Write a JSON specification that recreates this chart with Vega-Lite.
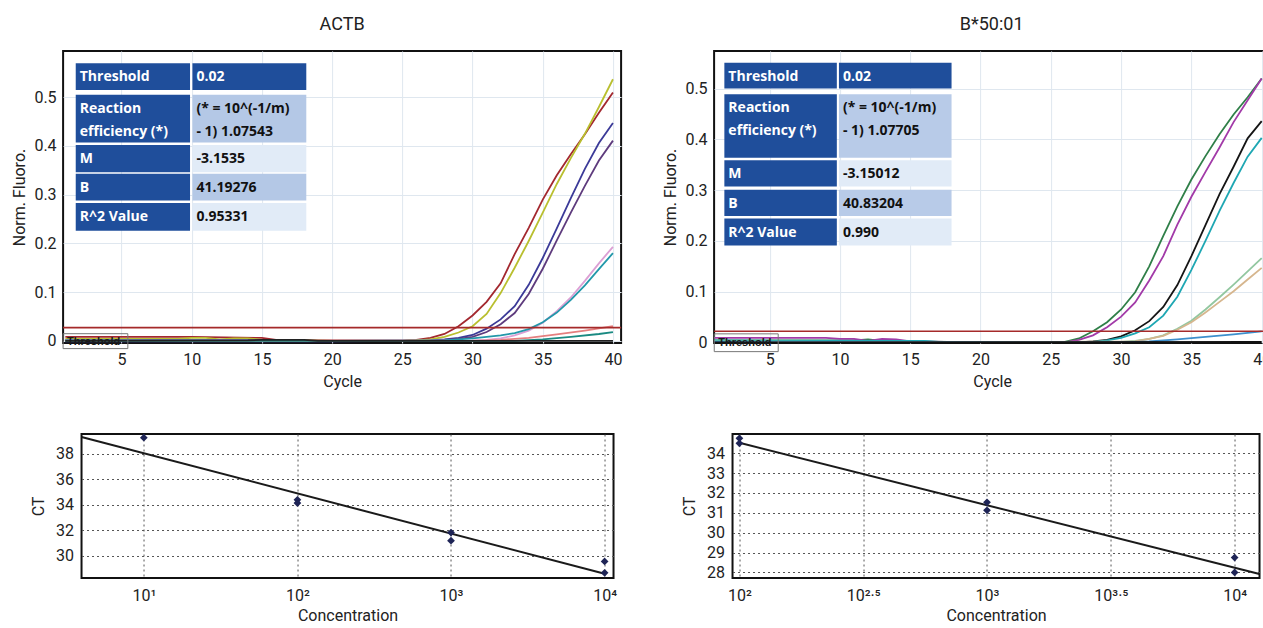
{
  "$schema": "https://vega.github.io/schema/vega-lite/v6.json",
  "padding": {"left": 10, "top": 15, "right": 0, "bottom": 0},
  "background": "white",
  "datasets": {
    "actb_curves": [
      {"s":"R","c":1,"f":0.008},{"s":"R","c":5,"f":0.008},{"s":"R","c":10,"f":0.008},{"s":"R","c":15,"f":0.006},{"s":"R","c":16,"f":0.002},{"s":"R","c":20,"f":0.001},{"s":"R","c":25,"f":0.001},{"s":"R","c":26,"f":0.002},{"s":"R","c":27,"f":0.006},{"s":"R","c":28,"f":0.014},{"s":"R","c":29,"f":0.030},{"s":"R","c":30,"f":0.052},{"s":"R","c":31,"f":0.080},{"s":"R","c":32,"f":0.118},{"s":"R","c":33,"f":0.178},{"s":"R","c":34,"f":0.232},{"s":"R","c":35,"f":0.290},{"s":"R","c":36,"f":0.340},{"s":"R","c":37,"f":0.383},{"s":"R","c":38,"f":0.424},{"s":"R","c":39,"f":0.468},{"s":"R","c":40,"f":0.510},
      {"s":"Y","c":1,"f":0.004},{"s":"Y","c":9,"f":0.004},{"s":"Y","c":10,"f":0.006},{"s":"Y","c":11,"f":0.006},{"s":"Y","c":12,"f":0.003},{"s":"Y","c":13,"f":0.005},{"s":"Y","c":14,"f":0.005},{"s":"Y","c":15,"f":0.002},{"s":"Y","c":20,"f":0.0},{"s":"Y","c":25,"f":0.0},{"s":"Y","c":26,"f":0.001},{"s":"Y","c":27,"f":0.003},{"s":"Y","c":28,"f":0.008},{"s":"Y","c":29,"f":0.017},{"s":"Y","c":30,"f":0.030},{"s":"Y","c":31,"f":0.055},{"s":"Y","c":32,"f":0.098},{"s":"Y","c":33,"f":0.150},{"s":"Y","c":34,"f":0.205},{"s":"Y","c":35,"f":0.263},{"s":"Y","c":36,"f":0.322},{"s":"Y","c":37,"f":0.375},{"s":"Y","c":38,"f":0.425},{"s":"Y","c":39,"f":0.480},{"s":"Y","c":40,"f":0.537},
      {"s":"N","c":1,"f":-0.001},{"s":"N","c":20,"f":-0.001},{"s":"N","c":26,"f":0.0},{"s":"N","c":27,"f":0.001},{"s":"N","c":28,"f":0.003},{"s":"N","c":29,"f":0.006},{"s":"N","c":30,"f":0.012},{"s":"N","c":31,"f":0.025},{"s":"N","c":32,"f":0.044},{"s":"N","c":33,"f":0.071},{"s":"N","c":34,"f":0.115},{"s":"N","c":35,"f":0.170},{"s":"N","c":36,"f":0.231},{"s":"N","c":37,"f":0.293},{"s":"N","c":38,"f":0.353},{"s":"N","c":39,"f":0.406},{"s":"N","c":40,"f":0.447},
      {"s":"P","c":1,"f":0.002},{"s":"P","c":15,"f":0.002},{"s":"P","c":18,"f":0.0},{"s":"P","c":27,"f":0.0},{"s":"P","c":28,"f":0.002},{"s":"P","c":29,"f":0.004},{"s":"P","c":30,"f":0.008},{"s":"P","c":31,"f":0.018},{"s":"P","c":32,"f":0.034},{"s":"P","c":33,"f":0.057},{"s":"P","c":34,"f":0.096},{"s":"P","c":35,"f":0.148},{"s":"P","c":36,"f":0.206},{"s":"P","c":37,"f":0.263},{"s":"P","c":38,"f":0.318},{"s":"P","c":39,"f":0.370},{"s":"P","c":40,"f":0.411},
      {"s":"K","c":1,"f":0.001},{"s":"K","c":20,"f":0.0},{"s":"K","c":30,"f":0.001},{"s":"K","c":31,"f":0.002},{"s":"K","c":32,"f":0.005},{"s":"K","c":33,"f":0.011},{"s":"K","c":34,"f":0.021},{"s":"K","c":35,"f":0.037},{"s":"K","c":36,"f":0.061},{"s":"K","c":37,"f":0.089},{"s":"K","c":38,"f":0.123},{"s":"K","c":39,"f":0.159},{"s":"K","c":40,"f":0.193},
      {"s":"T","c":1,"f":0.001},{"s":"T","c":20,"f":0.0},{"s":"T","c":28,"f":0.001},{"s":"T","c":29,"f":0.003},{"s":"T","c":30,"f":0.005},{"s":"T","c":31,"f":0.008},{"s":"T","c":32,"f":0.011},{"s":"T","c":33,"f":0.016},{"s":"T","c":34,"f":0.024},{"s":"T","c":35,"f":0.038},{"s":"T","c":36,"f":0.058},{"s":"T","c":37,"f":0.084},{"s":"T","c":38,"f":0.114},{"s":"T","c":39,"f":0.147},{"s":"T","c":40,"f":0.180},
      {"s":"S","c":1,"f":0.0},{"s":"S","c":30,"f":0.0},{"s":"S","c":32,"f":0.002},{"s":"S","c":34,"f":0.006},{"s":"S","c":36,"f":0.013},{"s":"S","c":38,"f":0.021},{"s":"S","c":40,"f":0.030},
      {"s":"G","c":1,"f":0.0},{"s":"G","c":33,"f":0.0},{"s":"G","c":35,"f":0.003},{"s":"G","c":37,"f":0.008},{"s":"G","c":39,"f":0.014},{"s":"G","c":40,"f":0.018},
      {"s":"B","c":1,"f":0.0},{"s":"B","c":14,"f":0.001},{"s":"B","c":15,"f":0.002},{"s":"B","c":18,"f":0.002},{"s":"B","c":19,"f":0.0},{"s":"B","c":40,"f":0.0}
    ],
    "b50_curves": [
      {"s":"G","c":1,"f":0.004},{"s":"G","c":11,"f":0.004},{"s":"G","c":12,"f":0.006},{"s":"G","c":13,"f":0.003},{"s":"G","c":20,"f":0.0},{"s":"G","c":25,"f":0.0},{"s":"G","c":26,"f":0.001},{"s":"G","c":27,"f":0.008},{"s":"G","c":28,"f":0.022},{"s":"G","c":29,"f":0.040},{"s":"G","c":30,"f":0.065},{"s":"G","c":31,"f":0.099},{"s":"G","c":32,"f":0.150},{"s":"G","c":33,"f":0.210},{"s":"G","c":34,"f":0.268},{"s":"G","c":35,"f":0.321},{"s":"G","c":36,"f":0.367},{"s":"G","c":37,"f":0.410},{"s":"G","c":38,"f":0.449},{"s":"G","c":39,"f":0.483},{"s":"G","c":40,"f":0.520},
      {"s":"M","c":1,"f":0.009},{"s":"M","c":9,"f":0.009},{"s":"M","c":10,"f":0.007},{"s":"M","c":11,"f":0.007},{"s":"M","c":12,"f":0.003},{"s":"M","c":13,"f":0.007},{"s":"M","c":14,"f":0.006},{"s":"M","c":15,"f":0.002},{"s":"M","c":20,"f":0.0},{"s":"M","c":26,"f":0.0},{"s":"M","c":27,"f":0.005},{"s":"M","c":28,"f":0.014},{"s":"M","c":29,"f":0.030},{"s":"M","c":30,"f":0.051},{"s":"M","c":31,"f":0.079},{"s":"M","c":32,"f":0.122},{"s":"M","c":33,"f":0.170},{"s":"M","c":34,"f":0.232},{"s":"M","c":35,"f":0.287},{"s":"M","c":36,"f":0.336},{"s":"M","c":37,"f":0.384},{"s":"M","c":38,"f":0.434},{"s":"M","c":39,"f":0.477},{"s":"M","c":40,"f":0.520},
      {"s":"K","c":1,"f":0.0},{"s":"K","c":27,"f":0.0},{"s":"K","c":28,"f":0.002},{"s":"K","c":29,"f":0.005},{"s":"K","c":30,"f":0.012},{"s":"K","c":31,"f":0.024},{"s":"K","c":32,"f":0.042},{"s":"K","c":33,"f":0.070},{"s":"K","c":34,"f":0.113},{"s":"K","c":35,"f":0.170},{"s":"K","c":36,"f":0.231},{"s":"K","c":37,"f":0.292},{"s":"K","c":38,"f":0.346},{"s":"K","c":39,"f":0.402},{"s":"K","c":40,"f":0.436},
      {"s":"C","c":1,"f":0.004},{"s":"C","c":16,"f":0.003},{"s":"C","c":17,"f":0.001},{"s":"C","c":20,"f":0.0},{"s":"C","c":27,"f":0.0},{"s":"C","c":28,"f":0.001},{"s":"C","c":29,"f":0.004},{"s":"C","c":30,"f":0.009},{"s":"C","c":31,"f":0.018},{"s":"C","c":32,"f":0.030},{"s":"C","c":33,"f":0.053},{"s":"C","c":34,"f":0.090},{"s":"C","c":35,"f":0.143},{"s":"C","c":36,"f":0.200},{"s":"C","c":37,"f":0.259},{"s":"C","c":38,"f":0.314},{"s":"C","c":39,"f":0.366},{"s":"C","c":40,"f":0.403},
      {"s":"L","c":1,"f":0.002},{"s":"L","c":20,"f":0.0},{"s":"L","c":30,"f":0.001},{"s":"L","c":31,"f":0.003},{"s":"L","c":32,"f":0.007},{"s":"L","c":33,"f":0.014},{"s":"L","c":34,"f":0.027},{"s":"L","c":35,"f":0.043},{"s":"L","c":36,"f":0.065},{"s":"L","c":37,"f":0.089},{"s":"L","c":38,"f":0.114},{"s":"L","c":39,"f":0.140},{"s":"L","c":40,"f":0.166},
      {"s":"A","c":1,"f":0.001},{"s":"A","c":20,"f":0.0},{"s":"A","c":31,"f":0.002},{"s":"A","c":32,"f":0.007},{"s":"A","c":33,"f":0.013},{"s":"A","c":34,"f":0.025},{"s":"A","c":35,"f":0.040},{"s":"A","c":36,"f":0.059},{"s":"A","c":37,"f":0.080},{"s":"A","c":38,"f":0.101},{"s":"A","c":39,"f":0.124},{"s":"A","c":40,"f":0.147},
      {"s":"U","c":1,"f":0.001},{"s":"U","c":30,"f":0.0},{"s":"U","c":32,"f":0.002},{"s":"U","c":34,"f":0.006},{"s":"U","c":36,"f":0.011},{"s":"U","c":38,"f":0.016},{"s":"U","c":40,"f":0.022},
      {"s":"Z","c":1,"f":0.0},{"s":"Z","c":40,"f":0.001}
    ],
    "actb_thr": [{"f":0.027}],
    "b50_thr": [{"f":0.022}],
    "actb_table": [
      {"c":1.74,"c2":9.88,"f":0.570,"f2":0.515,"kind":"head","ink":"white","text":"Threshold"},
      {"c":10.05,"c2":18.16,"f":0.570,"f2":0.515,"kind":"head","ink":"white","text":"0.02"},
      {"c":1.74,"c2":9.88,"f":0.505,"f2":0.407,"kind":"head","ink":"white","text":"Reaction\nefficiency (*)"},
      {"c":10.05,"c2":18.16,"f":0.505,"f2":0.407,"kind":"shade","ink":"black","text":"(* = 10^(-1/m)\n- 1) 1.07543"},
      {"c":1.74,"c2":9.88,"f":0.402,"f2":0.346,"kind":"head","ink":"white","text":"M"},
      {"c":10.05,"c2":18.16,"f":0.402,"f2":0.346,"kind":"pale","ink":"black","text":"-3.1535"},
      {"c":1.74,"c2":9.88,"f":0.343,"f2":0.288,"kind":"head","ink":"white","text":"B"},
      {"c":10.05,"c2":18.16,"f":0.343,"f2":0.288,"kind":"shade","ink":"black","text":"41.19276"},
      {"c":1.74,"c2":9.88,"f":0.283,"f2":0.226,"kind":"head","ink":"white","text":"R^2 Value"},
      {"c":10.05,"c2":18.16,"f":0.283,"f2":0.226,"kind":"pale","ink":"black","text":"0.95331"}
    ],
    "b50_table": [
      {"c":1.78,"c2":9.78,"f":0.551,"f2":0.500,"kind":"head","ink":"white","text":"Threshold"},
      {"c":9.93,"c2":17.94,"f":0.551,"f2":0.500,"kind":"head","ink":"white","text":"0.02"},
      {"c":1.78,"c2":9.78,"f":0.489,"f2":0.364,"kind":"head","ink":"white","text":"Reaction\nefficiency (*)"},
      {"c":9.93,"c2":17.94,"f":0.489,"f2":0.364,"kind":"shade","ink":"black","text":"(* = 10^(-1/m)\n- 1) 1.07705"},
      {"c":1.78,"c2":9.78,"f":0.359,"f2":0.307,"kind":"head","ink":"white","text":"M"},
      {"c":9.93,"c2":17.94,"f":0.359,"f2":0.307,"kind":"pale","ink":"black","text":"-3.15012"},
      {"c":1.78,"c2":9.78,"f":0.301,"f2":0.249,"kind":"head","ink":"white","text":"B"},
      {"c":9.93,"c2":17.94,"f":0.301,"f2":0.249,"kind":"shade","ink":"black","text":"40.83204"},
      {"c":1.78,"c2":9.78,"f":0.244,"f2":0.191,"kind":"head","ink":"white","text":"R^2 Value"},
      {"c":9.93,"c2":17.94,"f":0.244,"f2":0.191,"kind":"pale","ink":"black","text":"0.990"}
    ],
    "actb_thrbox": [{"c":0.84,"c2":5.45,"f":0.0146,"f2":-0.016,"text":"Threshold"}],
    "b50_thrbox": [{"c":1.06,"c2":5.61,"f":0.017,"f2":-0.018,"text":"Threshold"}],
    "actb_std": [
      {"conc":10,"ct":39.26},{"conc":100,"ct":34.39},{"conc":100,"ct":34.13},{"conc":1000,"ct":31.82},{"conc":1000,"ct":31.18},{"conc":10000,"ct":29.55},{"conc":10000,"ct":28.66}
    ],
    "actb_fit": [{"conc":3.93,"ct":39.32},{"conc":10000,"ct":28.58}],
    "b50_std": [
      {"conc":100,"ct":34.75},{"conc":100,"ct":34.5},{"conc":1000,"ct":31.53},{"conc":1000,"ct":31.13},{"conc":10000,"ct":28.75},{"conc":10000,"ct":28.0}
    ],
    "b50_fit": [{"conc":100,"ct":34.53},{"conc":12600,"ct":27.92}]
  },
  "config": {
    "font": "Roboto",
    "view": {"stroke": "#111111", "strokeWidth": 2},
    "axis": {
      "labelFont": "Roboto", "titleFont": "Roboto",
      "labelFontSize": 16, "titleFontSize": 16, "titleFontWeight": "normal",
      "labelColor": "#222222", "titleColor": "#222222", "ticks": false, "domain": false,
      "labelFlush": false, "labelOverlap": false, "tickCount": 20
    },
    "title": {"font": "Roboto", "fontSize": 18, "fontWeight": "normal", "color": "#222222"}
  },
  "center": true,
  "spacing": 41,
  "vconcat": [
    {
      "spacing": 38,
      "resolve": {"scale": {"color": "independent", "fill": "independent"}},
      "hconcat": [
        {
          "width": 558, "height": 292,
          "title": {"text": "ACTB", "offset": 17},
          "layer": [
            {
              "data": {"name": "actb_curves"},
              "mark": {"type": "line", "strokeWidth": 1.8, "clip": true},
              "encoding": {
                "x": {"field": "c", "type": "quantitative", "title": "Cycle", "scale": {"domain": [0.84, 40.58], "nice": false, "zero": false},
                      "axis": {"values": [5,10,15,20,25,30,35,40], "tickCount": 20, "labelOverlap": false, "grid": true, "gridColor": "#dfe7ef", "labelPadding": 8, "titlePadding": 6}},
                "y": {"field": "f", "type": "quantitative", "title": "Norm. Fluoro.", "scale": {"domain": [-0.0045, 0.595], "nice": false, "zero": false},
                      "axis": {"values": [0,0.1,0.2,0.3,0.4,0.5], "tickCount": 20, "labelOverlap": false, "format": ".1~f", "grid": true, "gridColor": "#dfe7ef", "labelPadding": 7, "titlePadding": 6}},
                "color": {"field": "s", "type": "nominal", "legend": null,
                          "scale": {"domain": ["R","Y","N","P","K","T","S","G","B"], "range": ["#a3282f","#b9bf2f","#3b3a98","#5e3b7d","#dc9fd4","#2398aa","#e47f7f","#1a8a82","#222222"]}}
              }
            },
            {
              "data": {"name": "actb_thr"},
              "mark": {"type": "rule", "color": "#a52a2a", "strokeWidth": 1.6},
              "encoding": {"y": {"field": "f", "type": "quantitative", "title": "Norm. Fluoro.", "scale": {"domain": [-0.0045, 0.595], "nice": false, "zero": false}}}
            },
            {
              "data": {"name": "actb_table"},
              "mark": {"type": "rect"},
              "encoding": {
                "x": {"field": "c", "type": "quantitative", "title": "Cycle", "scale": {"domain": [0.84, 40.58], "nice": false, "zero": false}},
                "x2": {"field": "c2"},
                "y": {"field": "f", "type": "quantitative", "title": "Norm. Fluoro.", "scale": {"domain": [-0.0045, 0.595], "nice": false, "zero": false}},
                "y2": {"field": "f2"},
                "fill": {"field": "kind", "type": "nominal", "legend": null,
                         "scale": {"domain": ["head","shade","pale","white","black"], "range": ["#1f4e9b","#b4c8e6","#e1ebf7","#ffffff","#111111"]}}
              }
            },
            {
              "data": {"name": "actb_table"},
              "mark": {"type": "text", "align": "left", "baseline": "middle", "dx": 4, "dy": 14, "font": "Open Sans", "fontWeight": "bold", "fontSize": 14, "lineBreak": "\n", "lineHeight": 23},
              "encoding": {
                "x": {"field": "c", "type": "quantitative", "title": "Cycle", "scale": {"domain": [0.84, 40.58], "nice": false, "zero": false}},
                "y": {"field": "f", "type": "quantitative", "title": "Norm. Fluoro.", "scale": {"domain": [-0.0045, 0.595], "nice": false, "zero": false}},
                "text": {"field": "text"},
                "fill": {"field": "ink", "type": "nominal", "legend": null,
                         "scale": {"domain": ["head","shade","pale","white","black"], "range": ["#1f4e9b","#b4c8e6","#e1ebf7","#ffffff","#111111"]}}
              }
            },
            {
              "data": {"name": "actb_thrbox"},
              "mark": {"type": "rect", "fill": null, "fillOpacity": 0, "stroke": "#777777", "strokeWidth": 1},
              "encoding": {
                "x": {"field": "c", "type": "quantitative", "title": "Cycle", "scale": {"domain": [0.84, 40.58], "nice": false, "zero": false}},
                "x2": {"field": "c2"},
                "y": {"field": "f", "type": "quantitative", "title": "Norm. Fluoro.", "scale": {"domain": [-0.0045, 0.595], "nice": false, "zero": false}},
                "y2": {"field": "f2"}
              }
            },
            {
              "data": {"name": "actb_thrbox"},
              "mark": {"type": "text", "align": "left", "baseline": "middle", "dx": 4, "dy": 8, "font": "Liberation Sans", "fontWeight": "bold", "fontSize": 11, "color": "#1a1a1a"},
              "encoding": {
                "x": {"field": "c", "type": "quantitative", "title": "Cycle", "scale": {"domain": [0.84, 40.58], "nice": false, "zero": false}},
                "y": {"field": "f", "type": "quantitative", "title": "Norm. Fluoro.", "scale": {"domain": [-0.0045, 0.595], "nice": false, "zero": false}},
                "text": {"field": "text"}
              }
            }
          ]
        },
        {
          "width": 567, "height": 292,
          "title": {"text": "B*50:01", "offset": 17, "frame": "group", "anchor": "middle", "dx": -6},
          "layer": [
            {
              "data": {"name": "b50_curves"},
              "mark": {"type": "line", "strokeWidth": 1.8, "clip": true},
              "encoding": {
                "x": {"field": "c", "type": "quantitative", "title": "Cycle", "scale": {"domain": [1.05, 41.38], "nice": false, "zero": false},
                      "axis": {"values": [5,10,15,20,25,30,35,40], "tickCount": 20, "labelOverlap": false, "grid": true, "gridColor": "#dfe7ef", "labelPadding": 8, "titlePadding": 6, "titleX": 278}},
                "y": {"field": "f", "type": "quantitative", "title": "Norm. Fluoro.", "scale": {"domain": [-0.001, 0.574], "nice": false, "zero": false},
                      "axis": {"values": [0,0.1,0.2,0.3,0.4,0.5], "tickCount": 20, "labelOverlap": false, "format": ".1~f", "grid": true, "gridColor": "#dfe7ef", "labelPadding": 7, "titlePadding": 6}},
                "color": {"field": "s", "type": "nominal", "legend": null,
                          "scale": {"domain": ["G","M","K","C","L","A","U","Z"], "range": ["#2f7f48","#a23aa8","#151515","#1ea7b3","#92c7a0","#d6b68e","#3d8fcc","#111111"]}}
              }
            },
            {
              "data": {"name": "b50_thr"},
              "mark": {"type": "rule", "color": "#a52a2a", "strokeWidth": 1.6},
              "encoding": {"y": {"field": "f", "type": "quantitative", "title": "Norm. Fluoro.", "scale": {"domain": [-0.001, 0.574], "nice": false, "zero": false}}}
            },
            {
              "data": {"name": "b50_table"},
              "mark": {"type": "rect"},
              "encoding": {
                "x": {"field": "c", "type": "quantitative", "title": "Cycle", "scale": {"domain": [1.05, 41.38], "nice": false, "zero": false}},
                "x2": {"field": "c2"},
                "y": {"field": "f", "type": "quantitative", "title": "Norm. Fluoro.", "scale": {"domain": [-0.001, 0.574], "nice": false, "zero": false}},
                "y2": {"field": "f2"},
                "fill": {"field": "kind", "type": "nominal", "legend": null,
                         "scale": {"domain": ["head","shade","pale","white","black"], "range": ["#1f4e9b","#b8cbe8","#e1ebf7","#ffffff","#111111"]}}
              }
            },
            {
              "data": {"name": "b50_table"},
              "mark": {"type": "text", "align": "left", "baseline": "middle", "dx": 4, "dy": 14, "font": "Open Sans", "fontWeight": "bold", "fontSize": 14, "lineBreak": "\n", "lineHeight": 23},
              "encoding": {
                "x": {"field": "c", "type": "quantitative", "title": "Cycle", "scale": {"domain": [1.05, 41.38], "nice": false, "zero": false}},
                "y": {"field": "f", "type": "quantitative", "title": "Norm. Fluoro.", "scale": {"domain": [-0.001, 0.574], "nice": false, "zero": false}},
                "text": {"field": "text"},
                "fill": {"field": "ink", "type": "nominal", "legend": null,
                         "scale": {"domain": ["head","shade","pale","white","black"], "range": ["#1f4e9b","#b8cbe8","#e1ebf7","#ffffff","#111111"]}}
              }
            },
            {
              "data": {"name": "b50_thrbox"},
              "mark": {"type": "rect", "fill": null, "fillOpacity": 0, "stroke": "#777777", "strokeWidth": 1},
              "encoding": {
                "x": {"field": "c", "type": "quantitative", "title": "Cycle", "scale": {"domain": [1.05, 41.38], "nice": false, "zero": false}},
                "x2": {"field": "c2"},
                "y": {"field": "f", "type": "quantitative", "title": "Norm. Fluoro.", "scale": {"domain": [-0.001, 0.574], "nice": false, "zero": false}},
                "y2": {"field": "f2"}
              }
            },
            {
              "data": {"name": "b50_thrbox"},
              "mark": {"type": "text", "align": "left", "baseline": "middle", "dx": 4, "dy": 9, "font": "Liberation Sans", "fontWeight": "bold", "fontSize": 11, "color": "#1a1a1a"},
              "encoding": {
                "x": {"field": "c", "type": "quantitative", "title": "Cycle", "scale": {"domain": [1.05, 41.38], "nice": false, "zero": false}},
                "y": {"field": "f", "type": "quantitative", "title": "Norm. Fluoro.", "scale": {"domain": [-0.001, 0.574], "nice": false, "zero": false}},
                "text": {"field": "text"}
              }
            }
          ]
        }
      ]
    },
    {
      "spacing": 62,
      "hconcat": [
        {
          "width": 532, "height": 144,
          "layer": [
            {
              "data": {"name": "actb_fit"},
              "mark": {"type": "line", "color": "#1a1a1a", "strokeWidth": 2},
              "encoding": {
                "x": {"field": "conc", "type": "quantitative", "title": "Concentration", "scale": {"type": "log", "domain": [3.93, 11430], "nice": false},
                      "axis": {"values": [10,100,1000,10000], "tickCount": 20, "labelOverlap": false, "labelExpr": "'10' + (datum.value < 50 ? '¹' : datum.value < 500 ? '²' : datum.value < 5000 ? '³' : '⁴')", "grid": true, "gridColor": "#555555", "gridDash": [2,3], "labelPadding": 9, "titlePadding": 4}},
                "y": {"field": "ct", "type": "quantitative", "title": "CT", "scale": {"domain": [28.25, 39.55], "nice": false, "zero": false},
                      "axis": {"values": [30,32,34,36,38], "format": "d", "tickCount": 20, "labelOverlap": false, "grid": true, "gridColor": "#555555", "gridDash": [2,3], "labelPadding": 8, "titlePadding": 9}}
              }
            },
            {
              "data": {"name": "actb_std"},
              "mark": {"type": "point", "shape": "diamond", "filled": true, "size": 60, "color": "#1e2456", "opacity": 1},
              "encoding": {
                "x": {"field": "conc", "type": "quantitative", "title": "Concentration", "scale": {"type": "log", "domain": [3.93, 11430], "nice": false}},
                "y": {"field": "ct", "type": "quantitative", "title": "CT", "scale": {"domain": [28.25, 39.55], "nice": false, "zero": false}}
              }
            }
          ]
        },
        {
          "width": 527, "height": 144,
          "layer": [
            {
              "data": {"name": "b50_fit"},
              "mark": {"type": "line", "color": "#1a1a1a", "strokeWidth": 2},
              "encoding": {
                "x": {"field": "conc", "type": "quantitative", "title": "Concentration", "scale": {"type": "log", "domain": [93.8, 12606], "nice": false},
                      "axis": {"values": [100, 316.2278, 1000, 3162.278, 10000], "tickCount": 20, "labelOverlap": false, "labelExpr": "'10' + (datum.value < 200 ? '²' : datum.value < 500 ? '²·⁵' : datum.value < 2000 ? '³' : datum.value < 5000 ? '³·⁵' : '⁴')", "grid": true, "gridColor": "#555555", "gridDash": [2,3], "labelPadding": 9, "titlePadding": 4}},
                "y": {"field": "ct", "type": "quantitative", "title": "CT", "scale": {"domain": [27.72, 34.97], "nice": false, "zero": false},
                      "axis": {"values": [28,29,30,31,32,33,34], "format": "d", "tickCount": 20, "labelOverlap": false, "grid": true, "gridColor": "#555555", "gridDash": [2,3], "labelPadding": 8, "titlePadding": 9}}
              }
            },
            {
              "data": {"name": "b50_std"},
              "mark": {"type": "point", "shape": "diamond", "filled": true, "size": 60, "color": "#1e2456", "opacity": 1},
              "encoding": {
                "x": {"field": "conc", "type": "quantitative", "title": "Concentration", "scale": {"type": "log", "domain": [93.8, 12606], "nice": false}},
                "y": {"field": "ct", "type": "quantitative", "title": "CT", "scale": {"domain": [27.72, 34.97], "nice": false, "zero": false}}
              }
            }
          ]
        }
      ]
    }
  ]
}
